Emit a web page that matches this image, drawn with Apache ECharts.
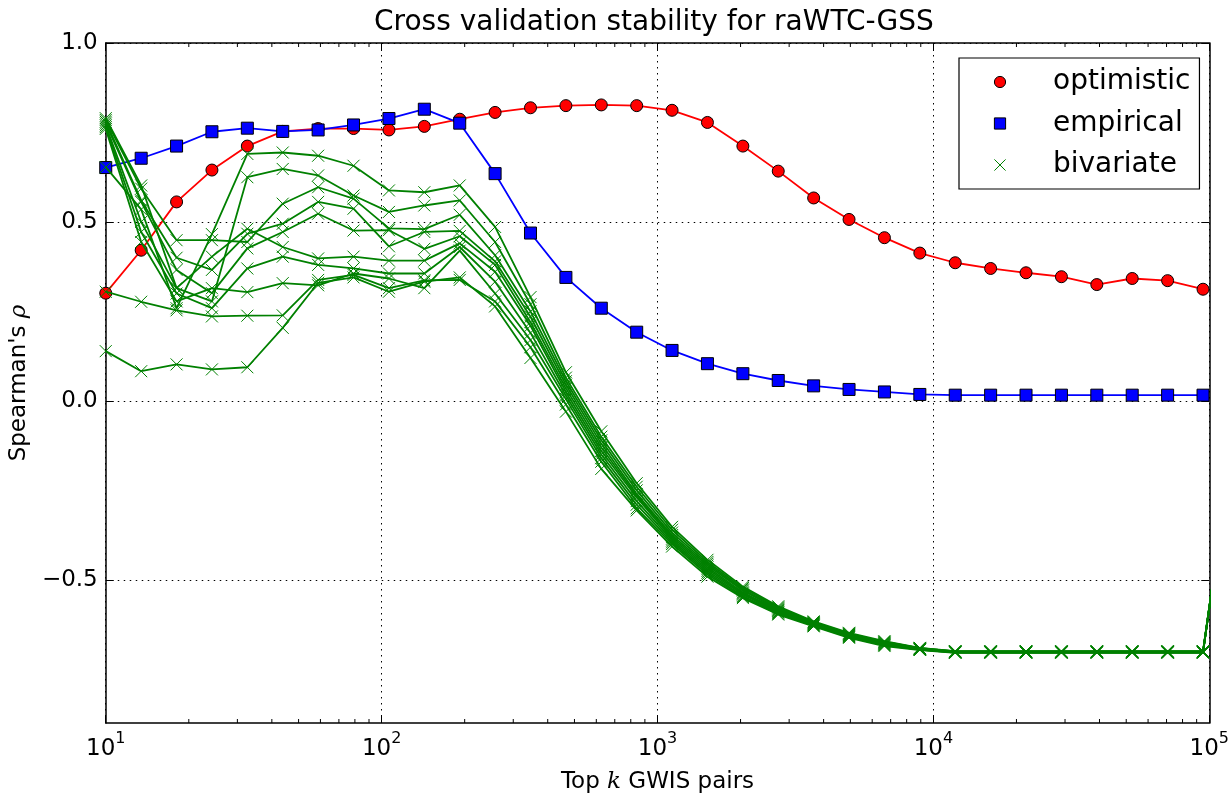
<!DOCTYPE html>
<html><head><meta charset="utf-8">
<script src="https://cdn.jsdelivr.net/npm/echarts@6/dist/echarts.min.js"></script>
<style>html,body{margin:0;padding:0;background:#fff}#c{width:1232px;height:799px}</style>
</head><body><div id="c"></div>
<script>
// ---- data ----
const kValues = [10, 13.44, 18.06, 24.26, 32.6, 43.8, 58.86, 79.09, 106.3, 142.8, 191.9, 257.8, 346.4, 465.5, 625.5, 840.5,
  1129, 1517, 2039, 2739, 3681, 4946, 6645, 8930, 12000, 16124, 21665, 29112, 39117, 52561, 70632, 94910, 127530];
const optimistic = [0.301, 0.421, 0.556, 0.645, 0.712, 0.753, 0.761, 0.761, 0.757, 0.767, 0.787, 0.806, 0.819, 0.825, 0.827, 0.825,
  0.812, 0.778, 0.712, 0.642, 0.567, 0.507, 0.456, 0.413, 0.386, 0.370, 0.358, 0.347, 0.325, 0.342, 0.336, 0.312];
const empirical = [0.652, 0.678, 0.712, 0.752, 0.762, 0.753, 0.757, 0.771, 0.789, 0.815, 0.776, 0.635, 0.469, 0.345, 0.259, 0.192,
  0.141, 0.104, 0.076, 0.057, 0.042, 0.032, 0.025, 0.018, 0.016, 0.016, 0.016, 0.016, 0.016, 0.016, 0.016, 0.016];
const bivariate1 = [0.139, 0.083, 0.102, 0.088, 0.094, 0.204, 0.330, 0.345, 0.305, 0.333, 0.345, 0.264, 0.12, -0.03, -0.19, -0.306,
  -0.407, -0.491, -0.551, -0.597, -0.630, -0.662, -0.685, -0.696, -0.704, -0.704, -0.704, -0.704, -0.704, -0.704, -0.704, -0.704, 0.0];
const bivariate2 = [0.305, 0.277, 0.253, 0.236, 0.238, 0.239, 0.338, 0.352, 0.315, 0.337, 0.338, 0.278, 0.15, -0.01, -0.17, -0.30,
  -0.400, -0.485, -0.548, -0.595, -0.628, -0.660, -0.683, -0.695, -0.703, -0.703, -0.703, -0.703, -0.703, -0.703, -0.703, -0.703, 0.0];
const bivariate3 = [0.653, 0.535, 0.259, 0.466, 0.690, 0.694, 0.685, 0.657, 0.588, 0.583, 0.602, 0.486, 0.29, 0.08, -0.085, -0.23,
  -0.352, -0.444, -0.519, -0.574, -0.616, -0.648, -0.671, -0.690, -0.699, -0.699, -0.699, -0.699, -0.699, -0.699, -0.699, -0.699, 0.0];
const bivariate4 = [0.790, 0.602, 0.315, 0.278, 0.625, 0.648, 0.630, 0.574, 0.528, 0.546, 0.560, 0.444, 0.27, 0.065, -0.10, -0.24,
  -0.360, -0.450, -0.523, -0.577, -0.618, -0.650, -0.673, -0.691, -0.700, -0.700, -0.700, -0.700, -0.700, -0.700, -0.700, -0.700, 0.0];
const bivariate5 = [0.785, 0.593, 0.449, 0.449, 0.444, 0.551, 0.597, 0.565, 0.482, 0.480, 0.520, 0.407, 0.25, 0.055, -0.11, -0.25,
  -0.368, -0.455, -0.527, -0.580, -0.619, -0.651, -0.674, -0.691, -0.700, -0.700, -0.700, -0.700, -0.700, -0.700, -0.700, -0.700, 0.0];
const bivariate6 = [0.780, 0.560, 0.400, 0.366, 0.467, 0.495, 0.556, 0.537, 0.432, 0.472, 0.475, 0.390, 0.235, 0.045, -0.12, -0.26,
  -0.375, -0.460, -0.530, -0.583, -0.621, -0.653, -0.676, -0.692, -0.701, -0.701, -0.701, -0.701, -0.701, -0.701, -0.701, -0.701, 0.0];
const bivariate7 = [0.775, 0.556, 0.366, 0.301, 0.426, 0.472, 0.523, 0.476, 0.477, 0.425, 0.460, 0.380, 0.22, 0.035, -0.13, -0.265,
  -0.380, -0.465, -0.535, -0.585, -0.622, -0.654, -0.677, -0.693, -0.701, -0.701, -0.701, -0.701, -0.701, -0.701, -0.701, -0.701, 0.0];
const bivariate8 = [0.770, 0.500, 0.315, 0.403, 0.481, 0.430, 0.398, 0.403, 0.392, 0.392, 0.440, 0.361, 0.21, 0.025, -0.14, -0.27,
  -0.385, -0.470, -0.538, -0.587, -0.624, -0.656, -0.679, -0.693, -0.702, -0.702, -0.702, -0.702, -0.702, -0.702, -0.702, -0.702, 0.0];
const bivariate9 = [0.765, 0.472, 0.300, 0.259, 0.370, 0.403, 0.380, 0.370, 0.356, 0.356, 0.430, 0.333, 0.19, 0.015, -0.15, -0.28,
  -0.390, -0.475, -0.541, -0.590, -0.625, -0.657, -0.680, -0.694, -0.702, -0.702, -0.702, -0.702, -0.702, -0.702, -0.702, -0.702, 0.0];
const bivariate10 = [0.760, 0.444, 0.278, 0.315, 0.304, 0.329, 0.323, 0.356, 0.342, 0.315, 0.420, 0.300, 0.17, 0.005, -0.16, -0.29,
  -0.395, -0.480, -0.545, -0.592, -0.627, -0.659, -0.682, -0.695, -0.703, -0.703, -0.703, -0.703, -0.703, -0.703, -0.703, -0.703, 0.0];
const bivariateLines = [bivariate1, bivariate2, bivariate3, bivariate4, bivariate5, bivariate6, bivariate7, bivariate8, bivariate9, bivariate10];
const xTickValues = [10, 100, 1000, 10000, 100000];
const xMinorTickValues = [20,30,40,50,60,70,80,90,200,300,400,500,600,700,800,900,2000,3000,4000,5000,6000,7000,8000,9000,20000,30000,40000,50000,60000,70000,80000,90000];
const yTickValues = [-0.5, 0.0, 0.5, 1.0];
const titleText = 'Cross validation stability for raWTC-GSS';
const seriesNames = ['optimistic', 'empirical', 'bivariate'];

// ---- chart ----
const FONT = 'DejaVu Sans';
const chart = echarts.init(document.getElementById('c'), null, {renderer: 'canvas'});
const pairs = arr => arr.map((v, i) => [kValues[i], v]);
const xPath = 'path://M0,0L10,10M10,0L0,10';

const series = [
  {name: seriesNames[0], type: 'line', data: pairs(optimistic), symbol: 'circle', symbolSize: 12,
   lineStyle: {color: '#ff0000', width: 1.8}, itemStyle: {color: '#ff0000', borderColor: '#000', borderWidth: 1}, z: 3},
  {name: seriesNames[1], type: 'line', data: pairs(empirical), symbol: 'rect', symbolSize: 12,
   lineStyle: {color: '#0000ff', width: 1.8}, itemStyle: {color: '#0000ff', borderColor: '#000', borderWidth: 1}, z: 4}
];
bivariateLines.forEach(arr => series.push({
  name: seriesNames[2], type: 'line', data: pairs(arr), symbol: xPath, symbolSize: 12, clip: true,
  lineStyle: {color: '#008000', width: 1.8}, itemStyle: {color: '#008000', borderColor: '#008000', borderWidth: 1}, z: 5
}));
series.forEach(s => { s.emphasis = {disabled: true}; s.animation = false; });

const axisCommon = {
  axisLine: {onZero: false, lineStyle: {color: '#000', width: 1.5}},
  axisTick: {inside: true, length: 8, lineStyle: {color: '#000', width: 1}},
};

const option = {
  animation: false,
  backgroundColor: '#fff',
  title: {text: titleText, left: 374, top: 9, padding: 0,
    textStyle: {fontFamily: FONT, fontSize: 28, fontWeight: 'normal', color: '#000'}},
  grid: {left: 105, right: 19, top: 43, bottom: 72, containLabel: false},
  legend: {
    data: seriesNames, orient: 'vertical', left: 959, top: 58,
    padding: [9, 9, 9, 30], itemWidth: 20, itemHeight: 14, itemGap: 11.5,
    borderColor: '#000', borderWidth: 1.2, borderRadius: 0, backgroundColor: '#fff',
    lineStyle: {opacity: 0}, itemStyle: {borderWidth: 1},
    textStyle: {fontFamily: FONT, fontSize: 28, color: '#000', lineHeight: 30, padding: [0, 0, 0, 38]},
    selectedMode: false
  },
  xAxis: [
    Object.assign({}, axisCommon, {
      type: 'log', logBase: 10, min: 10, max: 100000, position: 'bottom',
      axisTick: {inside: true, length: 8, lineStyle: {color: '#000', width: 1}, customValues: xTickValues},
      axisLabel: {customValues: xTickValues, margin: 8, formatter: v => '{b|10}{s|' + Math.round(Math.log10(v)) + '}',
        rich: {b: {fontFamily: FONT, fontSize: 23, color: '#000', verticalAlign: 'bottom', lineHeight: 30},
               s: {fontFamily: FONT, fontSize: 16, color: '#000', verticalAlign: 'top', lineHeight: 14}}},
      splitLine: {show: true, lineStyle: {color: '#000', type: [1.5, 4.5], width: 1}},
      name: '{n|Top }{i|k}{n| GWIS pairs}', nameLocation: 'middle', nameGap: 48,
      nameTextStyle: {rich: {n: {fontFamily: FONT, fontSize: 23, color: '#000'},
                             i: {fontFamily: 'DejaVu Serif', fontStyle: 'italic', fontSize: 23, color: '#000'}}}
    }),
    Object.assign({}, axisCommon, {
      type: 'log', logBase: 10, min: 10, max: 100000, position: 'top',
      axisTick: {inside: true, length: 8, lineStyle: {color: '#000', width: 1}, customValues: xTickValues},
      axisLabel: {show: false}, splitLine: {show: false}
    })
  ],
  yAxis: [
    Object.assign({}, axisCommon, {
      type: 'value', min: -0.9, max: 1.0, position: 'left',
      axisTick: {inside: true, length: 8, lineStyle: {color: '#000', width: 1}, customValues: yTickValues},
      axisLabel: {customValues: yTickValues, margin: 8, fontFamily: FONT, fontSize: 23, color: '#000',
        formatter: v => v.toFixed(1).replace('-', '\u2212')},
      splitLine: {show: true, lineStyle: {color: '#000', type: [1.5, 4.5], width: 1}},
      name: '{n|Spearman\'s }{i|\u03c1}', nameLocation: 'middle', nameGap: 69,
      nameTextStyle: {rich: {n: {fontFamily: FONT, fontSize: 23, color: '#000'},
                             i: {fontFamily: 'DejaVu Serif', fontStyle: 'italic', fontSize: 23, color: '#000'}}}
    }),
    Object.assign({}, axisCommon, {
      type: 'value', min: -0.9, max: 1.0, position: 'right',
      axisTick: {inside: true, length: 8, lineStyle: {color: '#000', width: 1}, customValues: yTickValues},
      axisLabel: {show: false}, splitLine: {show: false}
    })
  ],
  series: series
};
chart.setOption(option);

// minor ticks of the log axis, positioned through the axis scale
const yBottom = chart.convertToPixel({yAxisIndex: 0}, -0.9);
const yTop = chart.convertToPixel({yAxisIndex: 0}, 1.0);
const minor = [];
xMinorTickValues.forEach(v => {
  const x = chart.convertToPixel({xAxisIndex: 0}, v);
  minor.push({type: 'line', shape: {x1: x, y1: yBottom, x2: x, y2: yBottom - 4}, style: {stroke: '#000', lineWidth: 1}, silent: true});
  minor.push({type: 'line', shape: {x1: x, y1: yTop, x2: x, y2: yTop + 4}, style: {stroke: '#000', lineWidth: 1}, silent: true});
});
chart.setOption({graphic: minor});
</script>
</body></html>
